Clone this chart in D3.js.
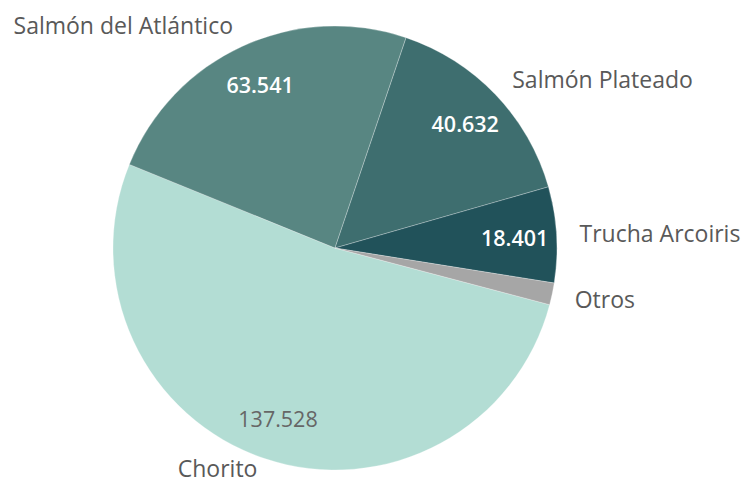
<!DOCTYPE html>
<html>
<head>
<meta charset="utf-8">
<script src="https://cdn.jsdelivr.net/npm/d3@7"></script>
<style>
  html, body { margin: 0; padding: 0; background: #ffffff; }
  svg { display: block; }
</style>
</head>
<body>
<svg id="chart" width="745" height="486"></svg>
<script>
const categories = ["Chorito", "Salmón del Atlántico", "Salmón Plateado", "Trucha Arcoiris", "Otros"];
const values = [137528, 63541, 40632, 18401, 4200];
const colors = ["#b3ddd4", "#588682", "#3e6e6f", "#21525a", "#a6a6a6"];
const showValue = [true, true, true, true, false];
const valueColors = ["#666666", "#ffffff", "#ffffff", "#ffffff", "#ffffff"];

const W = 745, H = 486;
const cx = 335, cy = 248, R = 222;
const deg = Math.PI / 180;

const data = categories.map((c, i) => ({ name: c, value: values[i], color: colors[i], show: showValue[i], vcolor: valueColors[i] }));

const svg = d3.select("#chart");
const g = svg.append("g").attr("transform", `translate(${cx},${cy})`);

const pie = d3.pie().sort(null).value(d => d.value)
  .startAngle(104.8 * deg).endAngle(104.8 * deg + 2 * Math.PI);
const arcs = pie(data);

const arc = d3.arc().innerRadius(0).outerRadius(R);
const valueArc = d3.arc().innerRadius(180).outerRadius(180);
const labelArc = d3.arc().innerRadius(245).outerRadius(245);

g.selectAll("path.slice").data(arcs).enter().append("path")
  .attr("class", "slice")
  .attr("d", arc)
  .attr("fill", d => d.data.color)
  .attr("stroke", "rgba(255,255,255,0.35)")
  .attr("stroke-width", 0.8);

const locale = d3.formatLocale({ decimal: ",", thousands: ".", grouping: [3], currency: ["$", ""] });
const fmt = locale.format(",d");

g.selectAll("text.val").data(arcs.filter(d => d.data.show)).enter().append("text")
  .attr("class", "val")
  .attr("transform", d => `translate(${valueArc.centroid(d)})`)
  .attr("text-anchor", "middle")
  .attr("dominant-baseline", "central")
  .attr("font-family", "'Open Sans', sans-serif")
  .attr("font-size", 21.5)
  .attr("font-weight", d => d.data.vcolor === "#ffffff" ? 600 : 400)
  .attr("fill", d => d.data.vcolor)
  .text(d => fmt(d.data.value));

const maxY = H - cy - 18;
g.selectAll("text.lbl").data(arcs).enter().append("text")
  .attr("class", "lbl")
  .attr("transform", d => {
    const [x, y] = labelArc.centroid(d);
    return `translate(${x},${Math.min(y, maxY)})`;
  })
  .attr("text-anchor", d => ((d.startAngle + d.endAngle) / 2) % (2 * Math.PI) > Math.PI ? "end" : "start")
  .attr("dominant-baseline", "central")
  .attr("font-family", "'Open Sans', sans-serif")
  .attr("font-size", 23)
  .attr("fill", "#595959")
  .text(d => d.data.name);
</script>
</body>
</html>
